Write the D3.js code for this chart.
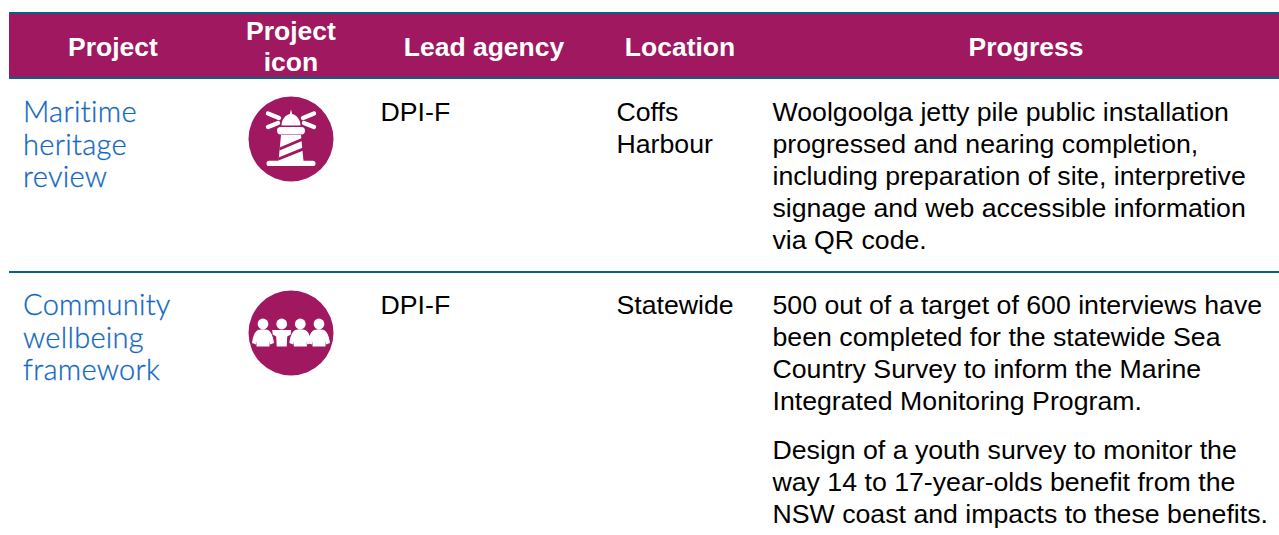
<!DOCTYPE html>
<html>
<head>
<meta charset="utf-8">
<script src="https://cdn.jsdelivr.net/npm/d3@7"></script>
<style>
  html, body { margin: 0; padding: 0; background: #fff; overflow: hidden; }
  svg { display: block; }
</style>
</head>
<body>
<svg id="chart" width="1279" height="535"></svg>
<script>
const headers = [['Project'], ['Project', 'icon'], ['Lead agency'], ['Location'], ['Progress']]
const projects = [['Maritime', 'heritage', 'review'], ['Community', 'wellbeing', 'framework']]
const icons = ['lighthouse', 'people']
const agencies = ['DPI-F', 'DPI-F']
const locations = [['Coffs', 'Harbour'], ['Statewide']]
const progress = [
  [[
    'Woolgoolga jetty pile public installation',
    'progressed and nearing completion,',
    'including preparation of site, interpretive',
    'signage and web accessible information',
    'via QR code.',
  ]],
  [[
    '500 out of a target of 600 interviews have',
    'been completed for the statewide Sea',
    'Country Survey to inform the Marine',
    'Integrated Monitoring Program.',
  ], [
    'Design of a youth survey to monitor the',
    'way 14 to 17-year-olds benefit from the',
    'NSW coast and impacts to these benefits.',
  ]],
]

const svg = d3.select('#chart')

const purple = '#a0185f'
const rule = '#056185'
const bodyFont = '"Liberation Sans", Arial, sans-serif'
const bodySize = 26.7
const lineHeight = 32

// column layout
const headerCentres = [113, 291, 484, 680, 1026]
const colX = { project: 23, icon: 291, agency: 380.5, location: 616.5, progress: 772.5 }
const rowTop = [79, 272]

// header band
svg.append('rect').attr('x', 9).attr('y', 13).attr('width', 1270).attr('height', 65).attr('fill', purple)
svg.selectAll('line.rule')
  .data([13, 78, 272])
  .join('line')
  .attr('class', 'rule')
  .attr('x1', 9)
  .attr('x2', 1279)
  .attr('y1', (d) => d)
  .attr('y2', (d) => d)
  .attr('stroke', rule)
  .attr('stroke-width', 2)

// header labels
svg.append('g')
  .selectAll('text')
  .data(headers.flatMap((lines, i) =>
    lines.map((t, j) => ({ t, x: headerCentres[i], y: lines.length > 1 ? 40 + j * 31 : 56 }))
  ))
  .join('text')
  .attr('x', (d) => d.x)
  .attr('y', (d) => d.y)
  .attr('text-anchor', 'middle')
  .attr('font-family', bodyFont)
  .attr('font-weight', 700)
  .attr('font-size', 26.5)
  .attr('fill', '#fff')
  .text((d) => d.t)

function lineBlock(g, lines, x, y, font, size, fill, leading) {
  return g.append('g')
    .attr('font-family', font)
    .attr('font-size', size)
    .attr('fill', fill)
    .selectAll('text')
    .data(lines)
    .join('text')
    .attr('x', x)
    .attr('y', (d, i) => y + i * leading)
    .text((d) => d)
}

// icons are drawn in px around the circle centre
function drawLighthouse(g) {
  const white = '#fff'
  g.append('path')
    .attr('fill', white)
    .attr('d', 'M-9.5,-13.5 C-9.5,-20 -5,-24 -1.2,-25 L0,-29.5 L1.2,-25 C5,-24 9.5,-20 9.5,-13.5 Z')
  g.append('rect').attr('x', -14).attr('y', -12).attr('width', 28).attr('height', 7.5).attr('rx', 3.7).attr('fill', white)
  g.append('path').attr('fill', white).attr('d', 'M-10,-4 L10,-4 L12.5,22 L-12.5,22 Z')
  // stripes across the tower
  g.append('path')
    .attr('fill', purple)
    .attr('d', 'M-11.5,8.5 L11,-1 L11,2 L-11.5,11.5 Z M-12.5,18.5 L12,8.5 L12.5,11.5 L-12.5,21.5 Z')
  g.append('rect').attr('x', -24.5).attr('y', 21.7).attr('width', 49).attr('height', 5.3).attr('rx', 2.6).attr('fill', white)
  g.selectAll('line.beam')
    .data([[-23, -25.5, -12, -21], [-23, -12, -13, -16], [23, -25.5, 12, -21], [23, -12, 13, -16]])
    .join('line')
    .attr('class', 'beam')
    .attr('x1', (d) => d[0])
    .attr('y1', (d) => d[1])
    .attr('x2', (d) => d[2])
    .attr('y2', (d) => d[3])
    .attr('stroke', white)
    .attr('stroke-width', 4.4)
    .attr('stroke-linecap', 'round')
}

function drawPeople(g) {
  const white = '#fff'
  const heads = [-28, -9.3, 9.3, 28]
  g.selectAll('circle.head')
    .data(heads)
    .join('circle')
    .attr('class', 'head')
    .attr('cx', (d) => d)
    .attr('cy', -9)
    .attr('r', 5.4)
    .attr('fill', white)
  // outer figures, arms down
  const armsDown = 'M-4,-3.2 C-1.5,-3.9 1.5,-3.9 4,-3.2 C8,-2.4 10,3 11,10 L7,11.5 L6.5,8 L6.5,13.5 L-6.5,13.5 L-6.5,8 L-7,11.5 L-11,10 C-10,3 -8,-2.4 -4,-3.2 Z'
  // inner figures, arms on the neighbours' shoulders
  const armsOut = 'M-9.5,-3 L9.5,-3 L9,1.5 L5.5,3.5 L5,13.5 L-5,13.5 L-5.5,3.5 L-9,1.5 Z'
  g.selectAll('path.body')
    .data(heads)
    .join('path')
    .attr('class', 'body')
    .attr('transform', (d) => `translate(${d},0)`)
    .attr('fill', white)
    .attr('d', (d, i) => (i === 1 ? armsOut : armsDown))
}

const iconDraw = { lighthouse: drawLighthouse, people: drawPeople }
const iconCy = [139, 333]

projects.forEach((proj, i) => {
  const row = svg.append('g').attr('class', 'row')
  const top = rowTop[i]
  lineBlock(row, proj, colX.project, top + 43, '"Lato", sans-serif', 29, '#1268c0', 32.5)
    .attr('font-weight', 300)
    .attr('letter-spacing', 0.3)
    .attr('stroke', '#1268c0')
    .attr('stroke-width', 0.3)
  const icon = row.append('g').attr('transform', `translate(${colX.icon},${iconCy[i]})`)
  icon.append('circle').attr('r', 42.5).attr('fill', purple)
  iconDraw[icons[i]](icon)
  lineBlock(row, [agencies[i]], colX.agency, top + 42, bodyFont, bodySize, '#000', lineHeight)
  lineBlock(row, locations[i], colX.location, top + 42, bodyFont, bodySize, '#000', lineHeight)

  let y = top + 42
  progress[i].forEach((para) => {
    lineBlock(row, para, colX.progress, y, bodyFont, bodySize, '#000', lineHeight)
    y += para.length * lineHeight + 17
  })
})
</script>
</body>
</html>
